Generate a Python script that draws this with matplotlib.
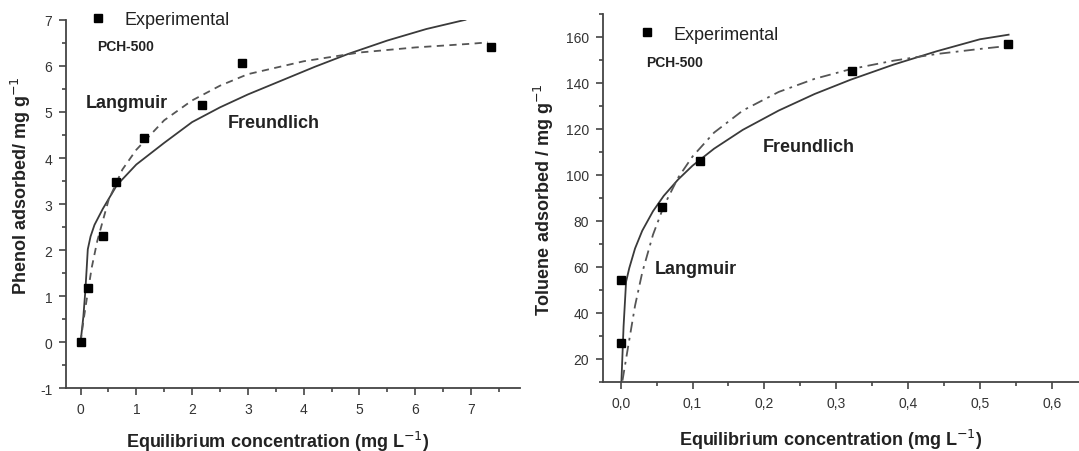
import matplotlib
matplotlib.use('Agg')
import matplotlib.pyplot as plt
from matplotlib.ticker import MultipleLocator, FuncFormatter

plt.rcParams['font.family'] = ['Liberation Sans', 'DejaVu Sans']
plt.rcParams['axes.unicode_minus'] = False

# Phenol (left panel)
phenol_c = [0, 0.14, 0.40, 0.63, 1.13, 2.18, 2.89, 7.36]
phenol_q = [0, 1.19, 2.30, 3.49, 4.43, 5.15, 6.06, 6.42]
phenol_fr_c = [0, 0.05, 0.085, 0.11, 0.13, 0.18, 0.25, 0.4, 0.65, 1.0,
               1.5, 2, 2.5, 3, 3.6, 4.2, 4.8, 5.5, 6.2, 6.9]
phenol_fr_q = [0, 0.55, 1.1, 1.6, 2.02, 2.3, 2.55, 2.9, 3.41, 3.86,
               4.33, 4.78, 5.1, 5.38, 5.68, 5.98, 6.26, 6.55, 6.8, 7.0]
phenol_la_c = [0, 0.05, 0.1, 0.2, 0.3, 0.5, 0.75, 1.0, 1.5, 2, 2.5, 3, 4, 5, 6, 7, 7.3]
phenol_la_q = [0, 0.45, 0.85, 1.62, 2.2, 3.08, 3.75, 4.18, 4.82, 5.25, 5.57, 5.82, 6.10, 6.29, 6.40, 6.48, 6.51]

# Toluene (right panel)
toluene_c = [0.0, 0.0, 0.057, 0.1105, 0.3226, 0.539]
toluene_q = [26.8, 54.1, 86.2, 105.9, 145.0, 157.1]
toluene_fr_c = [0.001, 0.004, 0.0075, 0.012, 0.02, 0.03, 0.045, 0.06, 0.08, 0.1,
                0.13, 0.17, 0.22, 0.27, 0.32, 0.38, 0.44, 0.5, 0.54]
toluene_fr_q = [10, 34, 53.5, 59.5, 68, 75.7, 84.2, 90.9, 98, 104,
                111.4, 119.6, 128, 135.2, 141.4, 148, 153.8, 159, 161]
toluene_la_c = [0.0025, 0.01, 0.02, 0.03, 0.045, 0.06, 0.08, 0.1, 0.13, 0.17,
                0.22, 0.27, 0.32, 0.38, 0.44, 0.5, 0.545]
toluene_la_q = [10.5, 24.6, 43.1, 57.5, 74, 86.4, 98.8, 108, 118.4, 128,
                136.1, 141.8, 146, 149.7, 152.6, 154.8, 156.3]

line_col = '#3a3a3a'
txt_col = '#222222'

fig = plt.figure(figsize=(10.79, 4.52), dpi=100)
ax1 = fig.add_axes([0.0612, 0.1383, 0.4208, 0.8157])
ax2 = fig.add_axes([0.5586, 0.1533, 0.4414, 0.8135])


def style_axes(ax):
    for s in ['top', 'right']:
        ax.spines[s].set_visible(False)
    for s in ['left', 'bottom']:
        ax.spines[s].set_color('#444444')
        ax.spines[s].set_linewidth(1.3)
    ax.tick_params(which='both', direction='out', color='#444444', width=1.2,
                   labelsize=10, labelcolor='#333333', pad=5)
    ax.tick_params(which='major', length=5)
    ax.tick_params(which='minor', length=3)


# ---- left: phenol ----
ax1.plot(phenol_fr_c, phenol_fr_q, '-', color=line_col, lw=1.3)
ax1.plot(phenol_la_c, phenol_la_q, '--', color='#555555', lw=1.3, dashes=(4, 3))
pts1, = ax1.plot(phenol_c, phenol_q, 's', color='black', ms=5.5, clip_on=False)
ax1.set_xlim(-0.26, 7.88)
ax1.set_ylim(-1, 7)
ax1.xaxis.set_major_locator(MultipleLocator(1))
ax1.xaxis.set_minor_locator(MultipleLocator(0.5))
ax1.yaxis.set_major_locator(MultipleLocator(1))
ax1.yaxis.set_minor_locator(MultipleLocator(0.5))
style_axes(ax1)
ax1.set_xlabel('Equilibrium concentration (mg L$^{-1}$)', fontsize=13,
               fontweight='bold', color=txt_col, va='center')
ax1.xaxis.set_label_coords(0.467, -0.141)
ax1.set_ylabel('Phenol adsorbed/ mg g$^{-1}$', fontsize=13,
               fontweight='bold', color=txt_col, va='center')
ax1.yaxis.set_label_coords(-0.099, 0.552)
ax1.legend([pts1], ['Experimental'], loc='center left', bbox_to_anchor=(0.054, 1.0),
           frameon=False, borderpad=0, borderaxespad=0, handlelength=0.8,
           handletextpad=1.06, prop={'size': 13}, labelcolor=txt_col)
ax1.text(0.0683, 0.928, 'PCH-500', transform=ax1.transAxes, fontsize=10,
         fontweight='bold', color=txt_col, ha='left', va='center')
ax1.text(0.044, 0.776, 'Langmuir', transform=ax1.transAxes, fontsize=13,
         fontweight='bold', color=txt_col, ha='left', va='center')
ax1.text(0.356, 0.722, 'Freundlich', transform=ax1.transAxes, fontsize=13,
         fontweight='bold', color=txt_col, ha='left', va='center')

# ---- right: toluene ----
ax2.plot(toluene_fr_c, toluene_fr_q, '-', color=line_col, lw=1.3)
ax2.plot(toluene_la_c, toluene_la_q, '-.', color='#555555', lw=1.3, dashes=(6, 3, 1.5, 3))
pts2, = ax2.plot(toluene_c, toluene_q, 's', color='black', ms=5.5, clip_on=False)
ax2.set_xlim(-0.025, 0.638)
ax2.set_ylim(10, 170)
ax2.xaxis.set_major_locator(MultipleLocator(0.1))
ax2.xaxis.set_minor_locator(MultipleLocator(0.05))
ax2.yaxis.set_major_locator(MultipleLocator(20))
ax2.yaxis.set_minor_locator(MultipleLocator(10))
ax2.xaxis.set_major_formatter(FuncFormatter(lambda v, p: f'{v:.1f}'.replace('.', ',')))
ax2.set_yticks([20, 40, 60, 80, 100, 120, 140, 160])
style_axes(ax2)
ax2.set_xlabel('Equilibrium concentration (mg L$^{-1}$)', fontsize=13,
               fontweight='bold', color=txt_col, va='center')
ax2.xaxis.set_label_coords(0.479, -0.156)
ax2.set_ylabel('Toluene adsorbed / mg g$^{-1}$', fontsize=13,
               fontweight='bold', color=txt_col, va='center')
ax2.yaxis.set_label_coords(-0.123, 0.497)
ax2.legend([pts2], ['Experimental'], loc='center left', bbox_to_anchor=(0.0773, 0.9454),
           frameon=False, borderpad=0, borderaxespad=0, handlelength=0.8,
           handletextpad=1.06, prop={'size': 13}, labelcolor=txt_col)
ax2.text(0.0903, 0.8686, 'PCH-500', transform=ax2.transAxes, fontsize=10,
         fontweight='bold', color=txt_col, ha='left', va='center')
ax2.text(0.335, 0.639, 'Freundlich', transform=ax2.transAxes, fontsize=13,
         fontweight='bold', color=txt_col, ha='left', va='center')
ax2.text(0.109, 0.308, 'Langmuir', transform=ax2.transAxes, fontsize=13,
         fontweight='bold', color=txt_col, ha='left', va='center')

fig.savefig('out.png', dpi=100)
